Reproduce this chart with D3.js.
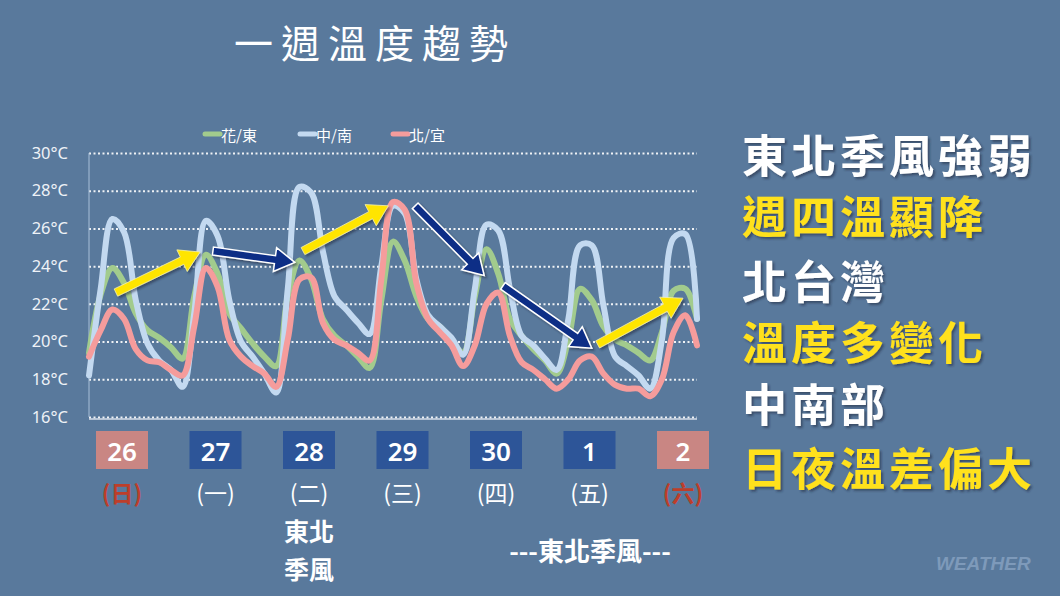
<!DOCTYPE html>
<html>
<head>
<meta charset="utf-8">
<script src="https://cdn.jsdelivr.net/npm/d3@7"></script>
<style>
  html, body { margin: 0; padding: 0; background: #59799c; }
  svg { display: block; font-family: "Noto Sans CJK TC", "Noto Sans", sans-serif; }
</style>
</head>
<body>
<svg id="chart"></svg>
<script>
// 3時間ごとの気温 (26日朝 → 2日夕)
const seriesNames = ["花/東", "中/南", "北/宜"];
const greenTemps = [19.4, 22.5, 23.9, 23.1, 21.5, 20.6, 20.2, 19.7, 19.1, 22.4, 24.6, 23.6, 21.5,
  20.7, 19.9, 19.2, 18.7, 22.4, 24.3, 23.3, 21.2, 20.3, 19.8, 19.2, 18.6, 22.2, 25.3,
  24.3, 22.4, 21.2, 20.8, 20.1, 19.4, 22.4, 24.9, 23.6, 21.2, 20.3, 19.6, 19.0, 18.3,
  20.1, 22.8, 22.2, 20.8, 20.1, 19.8, 19.4, 19.0, 20.5, 22.7, 22.8, 21.2];
const blueTemps = [18.2, 22.8, 26.5, 25.8, 22.2, 19.9, 19.0, 18.5, 17.6, 21.5, 26.4, 25.6, 22.2,
  20.0, 19.2, 18.3, 17.3, 22.8, 28.2, 27.9, 24.8, 22.4, 21.7, 21.0, 20.4, 24.0, 27.2,
  26.8, 23.3, 21.4, 20.8, 20.2, 19.3, 22.8, 26.2, 25.9, 22.8, 20.3, 19.8, 19.1, 18.5,
  21.2, 25.1, 25.1, 21.9, 19.2, 18.7, 18.2, 17.5, 20.1, 25.5, 25.7, 21.2];
const redTemps = [19.2, 20.6, 21.7, 21.2, 19.6, 19.0, 18.9, 18.5, 18.2, 20.8, 23.9, 22.9, 20.1,
  19.2, 18.7, 18.3, 17.6, 20.1, 23.3, 23.4, 21.0, 20.1, 19.8, 19.4, 19.0, 23.3, 27.4,
  27.0, 23.1, 21.2, 20.5, 19.8, 18.7, 19.8, 22.0, 22.6, 20.3, 18.9, 18.5, 18.0, 17.5,
  18.0, 19.0, 19.2, 18.3, 17.7, 17.5, 17.5, 17.1, 18.0, 20.5, 21.4, 19.8];
const seriesColors = ["#a2cb8d", "#c3d9f0", "#f59c9c"];

const yTicks = [16, 18, 20, 22, 24, 26, 28, 30];
const dates = ["26", "27", "28", "29", "30", "1", "2"];
const weekdays = ["(日)", "(一)", "(二)", "(三)", "(四)", "(五)", "(六)"];
const weekend = [true, false, false, false, false, false, true];

// 矢印 [開始index, 開始温度, 終了index, 終了温度]
const arrows = [
  [2.3, 22.6, 9.5, 24.75, "yellow"],
  [10.6, 24.8, 17.6, 24.2, "navy"],
  [18.3, 24.8, 25.6, 27.2, "yellow"],
  [27.9, 27.2, 33.8, 23.5, "navy"],
  [35.4, 22.95, 43.0, 19.65, "navy"],
  [43.5, 19.85, 50.8, 22.3, "yellow"]
];

const sideLines = ["東北季風強弱", "週四溫顯降", "北台灣", "溫度多變化", "中南部", "日夜溫差偏大"];
const sideColors = ["#ffffff", "#ffe11c", "#ffffff", "#ffe11c", "#ffffff", "#ffe11c"];

const W = 1060, H = 596;
const svg = d3.select("#chart").attr("width", W).attr("height", H);

svg.append("rect").attr("width", W).attr("height", H).attr("fill", "#59799c");

const defs = svg.append("defs");
defs.append("filter").attr("id", "shadow")
  .attr("x", "-10%").attr("y", "-20%").attr("width", "130%").attr("height", "160%")
  .append("feDropShadow")
  .attr("dx", 2).attr("dy", 2).attr("stdDeviation", 1.2)
  .attr("flood-color", "#1d2b3c").attr("flood-opacity", 0.55);

const x = d3.scaleLinear().domain([0, greenTemps.length - 1]).range([89, 697]);
const y = d3.scaleLinear().domain([16, 30]).range([417, 153]);
const xDay = d3.scalePoint().domain(dates).range([122, 683]);

// タイトル
svg.append("text")
  .attr("x", 234).attr("y", 41)
  .attr("dominant-baseline", "central")
  .attr("fill", "#ffffff")
  .attr("font-size", 39)
  .attr("letter-spacing", 8)
  .text("一週溫度趨勢");

// グリッド
svg.append("g")
  .attr("transform", "translate(89,0)")
  .call(d3.axisLeft(y).tickValues(yTicks).tickSize(-608).tickFormat(""))
  .call(g => g.select(".domain").remove())
  .selectAll("line")
  .attr("stroke", "#ffffff")
  .attr("stroke-width", 2)
  .attr("stroke-dasharray", "2,2.5")
  .attr("opacity", 0.9);

svg.append("line")
  .attr("x1", 89).attr("x2", 697).attr("y1", y(16) + 2).attr("y2", y(16) + 2)
  .attr("stroke", "#d4dde8").attr("stroke-width", 1.5);
svg.append("line")
  .attr("x1", 89).attr("x2", 89).attr("y1", y(30)).attr("y2", y(16))
  .attr("stroke", "#a9c0d8").attr("stroke-width", 1);

// y軸ラベル
svg.append("g")
  .attr("transform", "translate(89,0)")
  .call(d3.axisLeft(y).tickValues(yTicks).tickSize(0).tickPadding(21).tickFormat(d => d + "°C"))
  .call(g => g.select(".domain").remove())
  .selectAll("text")
  .attr("fill", "#eef2f7")
  .attr("font-size", 16.5)
  .attr("font-family", "'Noto Sans', sans-serif");

// 凡例
const legendX = [205, 300, 393];
seriesNames.forEach((name, i) => {
  svg.append("line")
    .attr("x1", legendX[i]).attr("x2", legendX[i] + 15)
    .attr("y1", 134).attr("y2", 134)
    .attr("stroke", seriesColors[i]).attr("stroke-width", 5).attr("stroke-linecap", "round");
  svg.append("text")
    .attr("x", legendX[i] + 16).attr("y", 134)
    .attr("dominant-baseline", "central")
    .attr("fill", "#ffffff").attr("font-size", 15)
    .text(name);
});

// 折れ線
const line = d3.line()
  .x((d, i) => x(i))
  .y(d => y(d))
  .curve(d3.curveCatmullRom.alpha(0.5));

[greenTemps, blueTemps, redTemps].forEach((temps, i) => {
  svg.append("path")
    .datum(temps)
    .attr("fill", "none")
    .attr("stroke", seriesColors[i])
    .attr("stroke-width", 6)
    .attr("stroke-linejoin", "round")
    .attr("stroke-linecap", "round")
    .attr("d", line);
});

// 矢印
function arrowPath(x1, y1, x2, y2) {
  const dx = x2 - x1, dy = y2 - y1;
  const len = Math.sqrt(dx * dx + dy * dy);
  const ux = dx / len, uy = dy / len;
  const nx = -uy, ny = ux;
  const sw = 4, hw = 12, hl = 20;
  const bx = x2 - ux * hl, by = y2 - uy * hl;
  const pts = [
    [x1 + nx * sw, y1 + ny * sw],
    [bx + nx * sw, by + ny * sw],
    [bx + nx * hw, by + ny * hw],
    [x2, y2],
    [bx - nx * hw, by - ny * hw],
    [bx - nx * sw, by - ny * sw],
    [x1 - nx * sw, y1 - ny * sw]
  ];
  return "M" + pts.map(p => p.join(",")).join("L") + "Z";
}

arrows.forEach(a => {
  const isNavy = a[4] === "navy";
  svg.append("path")
    .attr("d", arrowPath(x(a[0]), y(a[1]), x(a[2]), y(a[3])))
    .attr("fill", isNavy ? "#0c2d86" : "#ffe500")
    .attr("stroke", isNavy ? "#ffffff" : "#f4f0b0")
    .attr("stroke-width", isNavy ? 1.5 : 0.8)
    .attr("stroke-linejoin", "miter")
    .attr("filter", "url(#shadow)");
});

// 日付ボックス
dates.forEach((d, i) => {
  const cx = xDay(d);
  svg.append("rect")
    .attr("x", cx - 26).attr("y", 431)
    .attr("width", 52).attr("height", 38)
    .attr("fill", weekend[i] ? "#c98683" : "#2d5598");
  svg.append("text")
    .attr("x", cx).attr("y", 451)
    .attr("text-anchor", "middle").attr("dominant-baseline", "central")
    .attr("fill", "#ffffff").attr("font-size", 26).attr("font-weight", 600)
    .attr("font-family", "'Noto Sans', sans-serif")
    .text(d);
  svg.append("text")
    .attr("x", cx).attr("y", 492)
    .attr("text-anchor", "middle").attr("dominant-baseline", "central")
    .attr("fill", weekend[i] ? "#bd3e2a" : "#ffffff").attr("font-size", 23)
    .attr("font-weight", weekend[i] ? 700 : 400)
    .text(weekdays[i]);
});

// 季風の注記
svg.append("text")
  .attr("x", xDay("28")).attr("y", 530)
  .attr("text-anchor", "middle").attr("dominant-baseline", "central")
  .attr("fill", "#ffffff").attr("font-size", 25).attr("font-weight", 700)
  .text("東北");
svg.append("text")
  .attr("x", xDay("28")).attr("y", 568)
  .attr("text-anchor", "middle").attr("dominant-baseline", "central")
  .attr("fill", "#ffffff").attr("font-size", 25).attr("font-weight", 700)
  .text("季風");
svg.append("text")
  .attr("x", 590).attr("y", 549)
  .attr("text-anchor", "middle").attr("dominant-baseline", "central")
  .attr("fill", "#ffffff").attr("font-size", 26).attr("font-weight", 700)
  .text("---東北季風---");

// 右側の文字
const sideY = [153, 214, 279, 340, 402, 466];
sideLines.forEach((t, i) => {
  svg.append("text")
    .attr("x", 742).attr("y", sideY[i])
    .attr("dominant-baseline", "central")
    .attr("fill", sideColors[i])
    .attr("font-size", 45).attr("font-weight", 700)
    .attr("letter-spacing", 4)
    .attr("filter", "url(#shadow)")
    .text(t);
});

// ロゴ
svg.append("text")
  .attr("x", 936).attr("y", 563)
  .attr("dominant-baseline", "central")
  .attr("fill", "#7e9aba")
  .attr("font-size", 19).attr("font-weight", 700).attr("font-style", "italic")
  .attr("font-family", "'Liberation Sans', sans-serif")
  .text("WEATHER");
</script>
</body>
</html>
